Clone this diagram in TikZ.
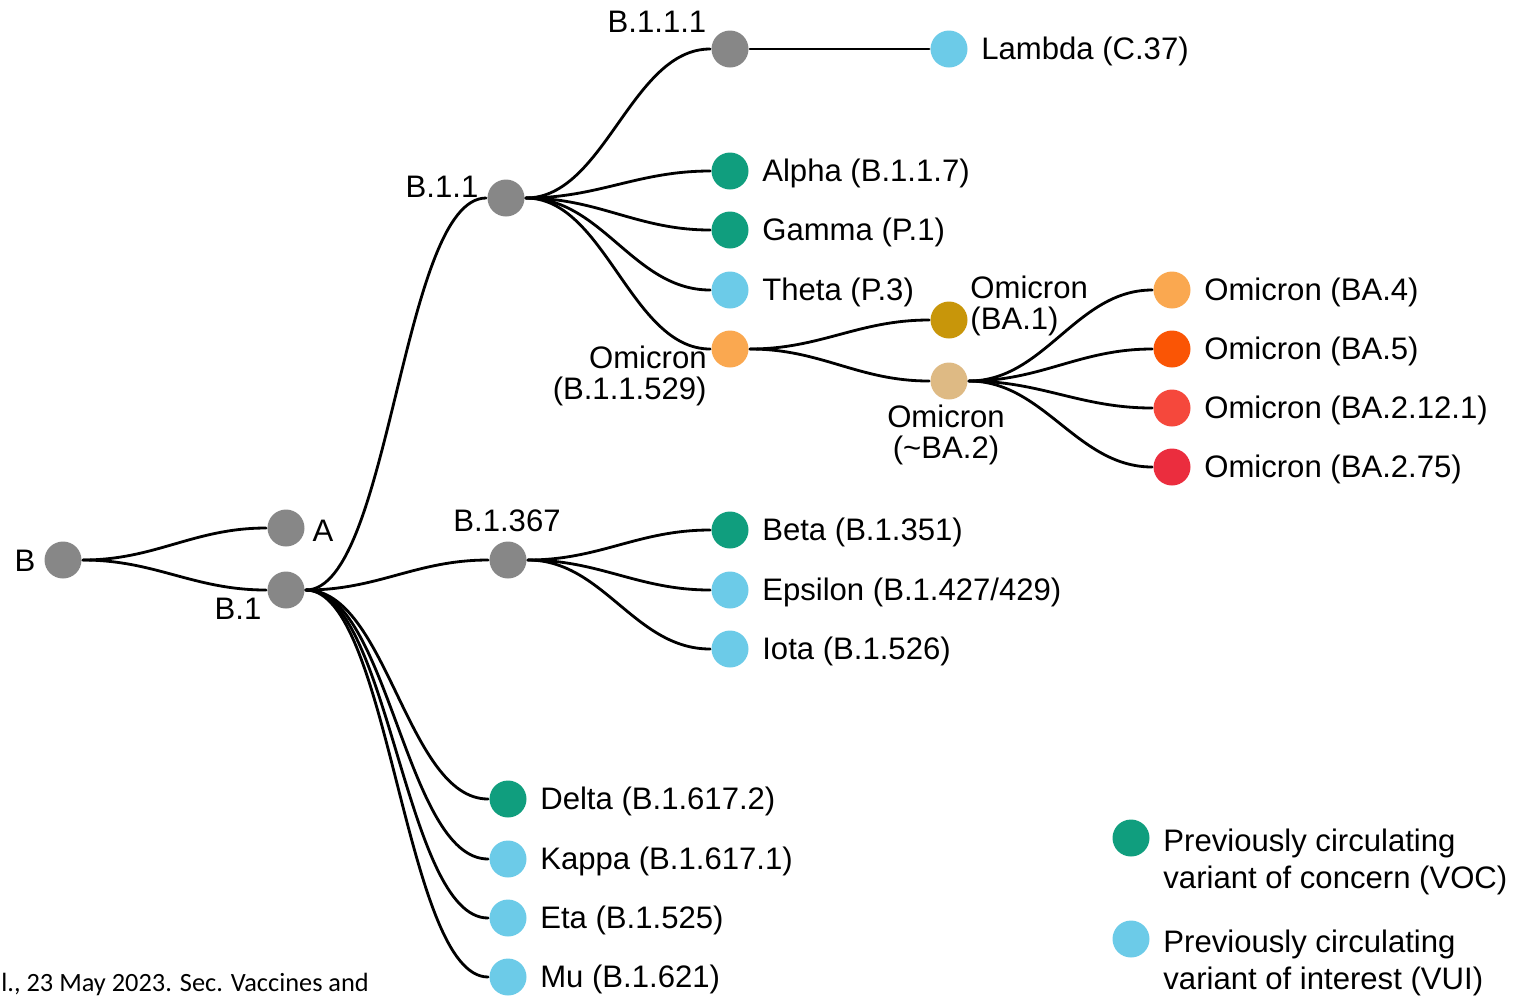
\documentclass[tikz,border=0pt]{standalone}
\usepackage{fontspec}
\setmainfont{Liberation Sans}
\newfontfamily\notefont{Carlito}
\usetikzlibrary{positioning}
\definecolor{lingray}{RGB}{135,135,135}
\definecolor{voc}{RGB}{16,158,126}
\definecolor{vui}{RGB}{108,203,232}
\definecolor{omiorange}{RGB}{250,168,80}
\definecolor{omiba1}{RGB}{200,150,10}
\definecolor{omiba2}{RGB}{222,186,132}
\definecolor{omiba5}{RGB}{250,85,5}
\definecolor{omiba2121}{RGB}{245,72,60}
\definecolor{omiba275}{RGB}{235,45,62}
\tikzset{
  lin/.style={circle,fill=#1,minimum size=0.74cm,inner sep=0pt},
  lin/.default=lingray,
  txt/.style={font=\fontsize{17.7}{18}\selectfont,inner sep=0pt},
  vlabel/.style={label={[txt,label distance=0.22cm,yshift=-1.2pt]right:#1}},
  branch/.style={out=0,in=180,looseness=#1},
  branch/.default=1
}

\begin{document}
\begin{tikzpicture}[x=0.02cm,y=-0.02cm,line width=1.6pt,line cap=round]
\useasboundingbox (0,0) rectangle (1517,995);
% lineages
\node[lin] (B) at (63,560) {};
\node[lin] (A) at (286,528) {};
\node[lin] (B1) at (286,590) {};
\node[lin] (B11) at (506,198) {};
\node[lin] (B111) at (730,49) {};
\node[lin] (B1367) at (508,560) {};
\node[txt] (lB) at (25,561) {B};
\node[txt] (lA) at (323,531) {A};
\node[txt] (lB1) at (238,609) {B.1};
\node[txt] (lB11) at (442,187) {B.1.1};
\node[txt] (lB111) at (657,22) {B.1.1.1};
\node[txt] (lB1367) at (507,521) {B.1.367};
% variants
\node[lin=vui,vlabel={Lambda (C.37)}] (lambda) at (949,49) {};
\node[lin=voc,vlabel={Alpha (B.1.1.7)}] (alpha) at (730,171) {};
\node[lin=voc,vlabel={Gamma (P.1)}] (gamma) at (730,230) {};
\node[lin=vui,vlabel={Theta (P.3)}] (theta) at (730,290) {};
\node[lin=omiorange] (omi) at (730,349) {};
\node[txt,align=right,anchor=east] (lomi) at (708,376) {Omicron\\(B.1.1.529)};
\node[lin=omiba1] (ba1) at (949,320) {};
\node[txt,align=left,anchor=west] (lba1) at (969,306) {Omicron\\(BA.1)};
\node[lin=omiba2] (ba2) at (949,381) {};
\node[txt,align=center] (lba2) at (946,435) {Omicron\\(\char`~BA.2)};
\node[lin=omiorange,vlabel={Omicron (BA.4)}] (ba4) at (1172,290) {};
\node[lin=omiba5,vlabel={Omicron (BA.5)}] (ba5) at (1172,349) {};
\node[lin=omiba2121,vlabel={Omicron (BA.2.12.1)}] (ba2121) at (1172,408) {};
\node[lin=omiba275,vlabel={Omicron (BA.2.75)}] (ba275) at (1172,467) {};
\node[lin=voc,vlabel={Beta (B.1.351)}] (beta) at (730,530) {};
\node[lin=vui,vlabel={Epsilon (B.1.427/429)}] (epsilon) at (730,590) {};
\node[lin=vui,vlabel={Iota (B.1.526)}] (iota) at (730,649) {};
\node[lin=voc,vlabel={Delta (B.1.617.2)}] (delta) at (508,799) {};
\node[lin=vui,vlabel={Kappa (B.1.617.1)}] (kappa) at (508,859) {};
\node[lin=vui,vlabel={Eta (B.1.525)}] (eta) at (508,918) {};
\node[lin=vui,vlabel={Mu (B.1.621)}] (mu) at (508,977) {};
% branches
\draw (B) to[branch] (A);
\draw (B) to[branch] (B1);
\draw (B1) to[branch=0.5] (B11);
\draw (B1) to[branch] (B1367);
\draw (B1) to[branch=0.75] (delta);
\draw (B1) to[branch=0.65] (kappa);
\draw (B1) to[branch=0.57] (eta);
\draw (B1) to[branch=0.5] (mu);
\draw (B11) to[branch=0.85] (B111);
\draw (B111) -- (lambda);
\draw (B11) to[branch] (alpha);
\draw (B11) to[branch] (gamma);
\draw (B11) to[branch=0.95] (theta);
\draw (B11) to[branch=0.85] (omi);
\draw (omi) to[branch] (ba1);
\draw (omi) to[branch] (ba2);
\draw (ba2) to[branch=0.95] (ba4);
\draw (ba2) to[branch] (ba5);
\draw (ba2) to[branch] (ba2121);
\draw (ba2) to[branch=0.95] (ba275);
\draw (B1367) to[branch] (beta);
\draw (B1367) to[branch] (epsilon);
\draw (B1367) to[branch=0.95] (iota);
% legend
\node[lin=voc] (kvoc) at (1131,838) {};
\node[txt,font=\fontsize{17.7}{21.5}\selectfont,align=left,anchor=west] (lvoc) at (1162,862) {Previously circulating\\variant of concern (VOC)};
\node[lin=vui] (kvui) at (1131,939) {};
\node[txt,font=\fontsize{17.7}{21.5}\selectfont,align=left,anchor=west] (lvui) at (1162,963) {Previously circulating\\variant of interest (VUI)};
% source line
\node[inner sep=0pt,anchor=west,font=\notefont\fontsize{15}{17}\selectfont] (src) at (0,984) {l., 23 May 2023. Sec. Vaccines and};
\end{tikzpicture}
\end{document}
